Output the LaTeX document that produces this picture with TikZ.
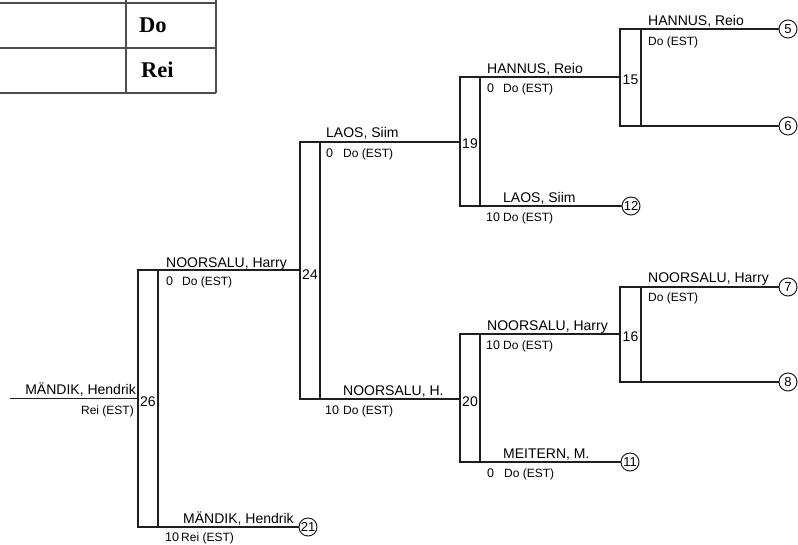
\documentclass[tikz,border=0pt]{standalone}
\usepackage{fontspec}
\setmainfont{Liberation Sans}
\newfontfamily\tabfont{Liberation Serif}
\begin{document}
\begin{tikzpicture}[x=1pt,y=-1pt,
  ln/.style={line width=1.3pt, draw=black!88},
  brk/.style={ln, rectangle, minimum width=20pt, inner sep=0pt, outer sep=0pt},
  num/.style={inner sep=0pt, font=\fontsize{14}{14}\selectfont},
  circ/.style={circle, draw=black!88, line width=1pt, minimum size=18pt, inner sep=0pt, outer sep=0pt, font=\fontsize{13}{13}\selectfont},
  nm/.style={anchor=base west, inner sep=0pt, font=\fontsize{14}{14}\selectfont},
  sc/.style={anchor=base west, inner sep=0pt, font=\fontsize{12.5}{12.5}\selectfont},
  ct/.style={anchor=base west, inner sep=0pt, font=\fontsize{12}{12}\selectfont},
  tab/.style={line width=1.8pt, draw=black!70},
  tabtxt/.style={anchor=base west, inner sep=0pt, font=\tabfont\bfseries\fontsize{22.5}{22.5}\selectfont}
]
\useasboundingbox (0,0) rectangle (798,544);

% table
\draw[tab] (0,3) -- (216,3);
\draw[tab] (0,48) -- (216,48);
\draw[tab] (0,93) -- (216,93);
\draw[tab] (126,0) -- (126,93);
\draw[tab] (216,0) -- (216,93);
\node[tabtxt] (tdo) at (139,32) {Do};
\node[tabtxt] (trei) at (141,77) {Rei};

% brackets
\node[brk, minimum height=257pt] (b26) at (148,398.5) {};
\node[brk, minimum height=257pt] (b24) at (310,270.5) {};
\node[brk, minimum height=129pt] (b19) at (470,141.5) {};
\node[brk, minimum height=97pt, minimum width=21pt] (b15) at (630.5,77.5) {};
\node[brk, minimum height=128pt] (b20) at (470,398) {};
\node[brk, minimum height=95pt, minimum width=21pt] (b16) at (630.5,334.5) {};

\node[num] (n26) at ([yshift=-3pt]b26.center) {26};
\node[num] (n24) at ([yshift=-4pt]b24.center) {24};
\node[num] (n19) at ([yshift=-2pt]b19.center) {19};
\node[num] (n15) at ([yshift=-2.5pt]b15.center) {15};
\node[num] (n20) at ([yshift=-4pt]b20.center) {20};
\node[num] (n16) at ([yshift=-2.5pt]b16.center) {16};

% circles
\node[circ] (c21) at (308,527) {21};
\node[circ] (c12) at (631,206) {12};
\node[circ] (c11) at (630,462) {11};
\node[circ] (c5) at (788,29) {5};
\node[circ] (c6) at (788,126) {6};
\node[circ] (c7) at (788,287) {7};
\node[circ] (c8) at (788,382) {8};

% connectors
\coordinate (in26) at (10,398.5);
\draw[ln] (in26) -- (b26.west);
\draw[ln] (b26.north west) -- (b26.north west -| b24.west);
\draw[ln] (b26.south west) -- (c21.west);
\draw[ln] (b24.north west) -- (b24.north west -| b19.west);
\draw[ln] (b24.south west) -- (b24.south west -| b20.west);
\draw[ln] (b19.north west) -- (b19.north west -| b15.west);
\draw[ln] (b19.south west) -- (c12.west);
\draw[ln] (b15.north west) -- (c5.west);
\draw[ln] (b15.south west) -- (c6.west);
\draw[ln] (b20.north west) -- (b20.north west -| b16.west);
\draw[ln] (b20.south west) -- (c11.west);
\draw[ln] (b16.north west) -- (c7.west);
\draw[ln] (b16.south west) -- (c8.west);

% left entry
\node[nm, anchor=base east] (l0n) at (136,394) {MÄNDIK, Hendrik};
\node[ct, anchor=base east] (l0c) at (134,414) {Rei (EST)};

% bracket 26 players
\node[nm] (p1n) at (166,267) {NOORSALU, Harry};
\node[sc] (p1s) at (166,285) {0};
\node[ct] (p1c) at (182,285) {Do (EST)};
\node[nm] (p2n) at (183,523) {MÄNDIK, Hendrik};
\node[sc] (p2s) at (165,541) {10};
\node[ct] (p2c) at (181,541) {Rei (EST)};

% bracket 24 players
\node[nm] (p3n) at (326,137) {LAOS, Siim};
\node[sc] (p3s) at (326,157) {0};
\node[ct] (p3c) at (343,157) {Do (EST)};
\node[nm] (p4n) at (343,395) {NOORSALU, H.};
\node[sc] (p4s) at (325,414) {10};
\node[ct] (p4c) at (343,414) {Do (EST)};

% bracket 19 players
\node[nm] (p5n) at (487,73) {HANNUS, Reio};
\node[sc] (p5s) at (487,92) {0};
\node[ct] (p5c) at (503,92) {Do (EST)};
\node[nm] (p6n) at (503,202) {LAOS, Siim};
\node[sc] (p6s) at (486,221) {10};
\node[ct] (p6c) at (503,221) {Do (EST)};

% bracket 15
\node[nm] (p7n) at (648,25) {HANNUS, Reio};
\node[ct] (p7c) at (648,45) {Do (EST)};

% bracket 20 players
\node[nm] (p8n) at (487,330) {NOORSALU, Harry};
\node[sc] (p8s) at (486,349) {10};
\node[ct] (p8c) at (503,349) {Do (EST)};
\node[nm] (p9n) at (503,458) {MEITERN, M.};
\node[sc] (p9s) at (487,477) {0};
\node[ct] (p9c) at (504,477) {Do (EST)};

% bracket 16
\node[nm] (p10n) at (648,282) {NOORSALU, Harry};
\node[ct] (p10c) at (648,301) {Do (EST)};
\end{tikzpicture}
\end{document}
